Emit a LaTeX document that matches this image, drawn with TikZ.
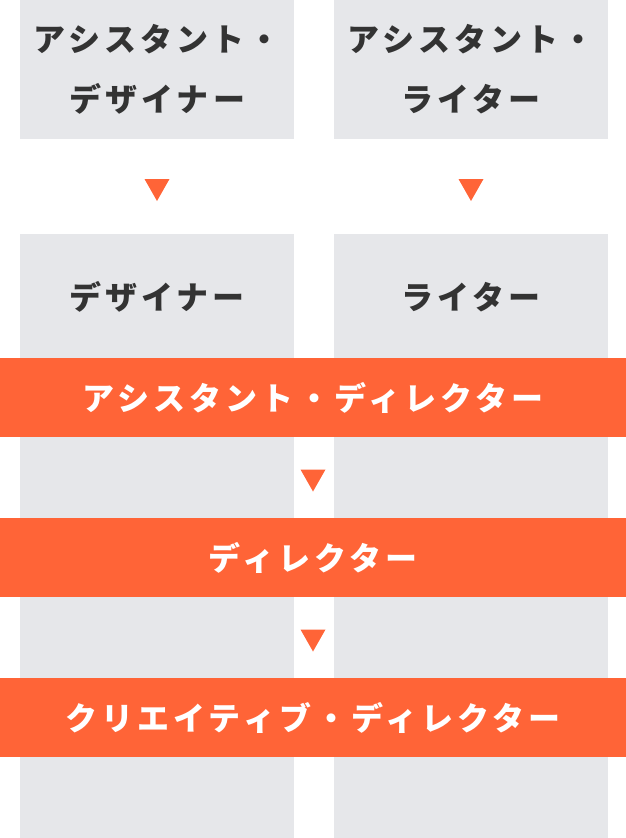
\documentclass[tikz,border=0pt]{standalone}
\usepackage{fontspec}
\setmainfont{Noto Sans CJK JP}
\newfontfamily\jpfont[LetterSpace=13]{Noto Sans CJK JP}
\definecolor{boxgray}{HTML}{E6E7EA}
\definecolor{accent}{HTML}{FF6437}
\definecolor{ink}{HTML}{333333}
\tikzset{
  graybox/.style={fill=boxgray, inner sep=0pt, outer sep=0pt, anchor=north west, minimum width=274pt},
  bar/.style={fill=accent, inner sep=0pt, outer sep=0pt, anchor=north west, minimum width=626pt, minimum height=79pt,
    text=white, font=\jpfont\bfseries\fontsize{32}{36}\selectfont},
  graytext/.style={text=ink, align=center, inner sep=0pt, font=\jpfont\bfseries\fontsize{32}{60}\selectfont},
  tri/.pic={\fill[accent] (-12.5,-11) -- (12.5,-11) -- (0,11) -- cycle;}
}
\begin{document}
\begin{tikzpicture}[x=1pt,y=-1pt]
\useasboundingbox (0,0) rectangle (626,838);
% top boxes
\node[graybox, minimum height=139pt] (ad) at (20,0) {};
\node[graybox, minimum height=139pt] (aw) at (334,0) {};
\node[graytext] (adt) at (ad.center) {アシスタント・\\デザイナー};
\node[graytext] (awt) at (aw.center) {アシスタント・\\ライター};
% columns
\node[graybox, minimum height=604pt] (d) at (20,234) {};
\node[graybox, minimum height=604pt] (w) at (334,234) {};
\node[graytext] (dt) at (157,297) {デザイナー};
\node[graytext] (wt) at (471,297) {ライター};
% bars
\node[bar] (adir) at (0,358) {アシスタント・ディレクター};
\node[bar] (dir) at (0,518) {ディレクター};
\node[bar] (cd) at (0,678) {クリエイティブ・ディレクター};
% triangles
\pic at (157,190) {tri};
\pic at (471,190) {tri};
\pic at (313,480.5) {tri};
\pic at (313,640.5) {tri};
\end{tikzpicture}
\end{document}
